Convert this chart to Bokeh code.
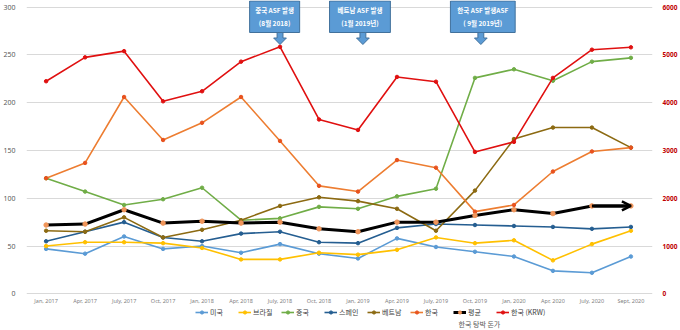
from bokeh.plotting import figure
from bokeh.models import (Range1d, LinearAxis, FixedTicker, Legend, LegendItem,
                          Arrow, OpenHead, Label, ColumnDataSource)
from bokeh.embed import file_html
from bokeh.resources import INLINE
from bokeh.core.properties import value

# ---------------- data ----------------
periods = ["Jan, 2017", "Apr, 2017", "July, 2017", "Oct, 2017", "Jan, 2018", "Apr, 2018",
           "July, 2018", "Oct, 2018", "Jan, 2019", "Apr, 2019", "July, 2019", "Oct, 2019",
           "Jan, 2020", "Apr, 2020", "July, 2020", "Sept, 2020"]
usa = [47, 42, 60, 47, 50, 43, 52, 42, 37, 58, 49, 44, 39, 24, 22, 39]
brazil = [50, 54, 54, 53, 48, 36, 36, 43, 41, 46, 59, 53, 56, 35, 52, 66]
china = [121, 107, 93, 99, 111, 77, 79, 91, 89, 102, 110, 226, 235, 223, 243, 247]
spain = [55, 65, 75, 59, 55, 63, 65, 54, 53, 69, 73, 72, 71, 70, 68, 70]
vietnam = [66, 65, 80, 59, 67, 77, 92, 101, 97, 89, 66, 108, 162, 174, 174, 153]
korea = [121, 137, 206, 161, 179, 206, 160, 113, 107, 140, 132, 86, 93, 128, 149, 153]
average = [72, 73, 88, 74, 76, 74, 75, 68, 65, 75, 75, 82, 88, 84, 92, 92]
korea_krw = [4450, 4950, 5080, 4030, 4240, 4860, 5170, 3650, 3430, 4540, 4440, 2970, 3180, 4520, 5110, 5160]

left_ticks = [0, 50, 100, 150, 200, 250, 300]
right_ticks = [0, 1000, 2000, 3000, 4000, 5000, 6000]

events = [("중국 ASF 발생", "(8월 2018)", "July, 2018"),
          ("베트남 ASF 발생", "(1월 2019년)", "Jan, 2019"),
          ("한국 ASF 발생ASF", "( 9월 2019년)", "Oct, 2019")]

KO = "Noto Sans CJK KR"
idx = list(range(len(periods)))

# ---------------- figure ----------------
# frame covers the full canvas height; value 0 sits at pixel 293.3, 300 at pixel 6.7
H = 330
PXY = (293.3 - 6.7) / 300.0


def ydat(py):
    return (293.3 - py) / PXY


X0, X1 = -0.503, 15.554
p = figure(width=680, height=H, x_range=Range1d(X0, X1), y_range=Range1d(ydat(H), ydat(0)),
           output_backend="svg", toolbar_location=None,
           min_border_left=20, min_border_right=22, min_border_top=0, min_border_bottom=0)
p.extra_y_ranges = {"krw": Range1d(ydat(H) * 20, ydat(0) * 20)}
p.outline_line_color = None
p.background_fill_color = "white"
p.border_fill_color = "white"
PXX = 638 / (X1 - X0)

p.xgrid.visible = False
p.ygrid.grid_line_color = "#D9D9D9"
p.ygrid.grid_line_width = 1

p.yaxis.ticker = FixedTicker(ticks=left_ticks)
p.yaxis.axis_line_color = None
p.yaxis.major_tick_line_color = None
p.yaxis.minor_tick_line_color = None
p.yaxis.major_label_text_font_size = "7px"
p.yaxis.major_label_text_color = "#595959"
p.yaxis.major_label_text_font = "Noto Sans"
p.yaxis.major_label_standoff = 5
p.xaxis.visible = False

ry = LinearAxis(y_range_name="krw", ticker=FixedTicker(ticks=right_ticks))
ry.axis_line_color = None
ry.major_tick_line_color = None
ry.minor_tick_line_color = None
ry.major_label_text_font_size = "6.5px"
ry.major_label_text_color = "#C00000"
ry.major_label_text_font_style = "bold"
ry.major_label_text_font = "Noto Sans"
ry.major_label_standoff = 4
p.add_layout(ry, "right")

# category labels under the value 0 line
p.text(x=idx, y=[ydat(300.5)] * len(idx), text=periods, text_align="center",
       text_baseline="middle", text_font=value("Noto Sans"), text_font_size="5.5px",
       text_color="#7F7F7F")

# ---------------- series ----------------
series = [("미국", usa, "#5B9BD5", "#5B9BD5", 1.6, None),
          ("브라질", brazil, "#FFC000", "#FFC000", 1.6, None),
          ("중국", china, "#70AD47", "#70AD47", 1.6, None),
          ("스페인", spain, "#255E91", "#255E91", 1.6, None),
          ("베트남", vietnam, "#8C6A12", "#8C6A12", 1.6, None),
          ("한국", korea, "#ED7D31", "#E8521E", 1.6, None),
          ("평균", average, "black", "#F0955A", 3, None),
          ("한국 (KRW)", korea_krw, "#E01010", "#E01010", 1.6, "krw")]

items = []
for name, vals, lc, mc, lw, rng in series:
    src = ColumnDataSource(dict(x=idx, y=vals))
    kw = {"y_range_name": rng} if rng else {}
    r1 = p.line("x", "y", source=src, line_color=lc, line_width=lw, **kw)
    if name == "평균":
        n = len(vals)
        p.add_layout(Arrow(end=OpenHead(size=9, line_width=2.5, line_color="black"),
                           x_start=idx[n - 2], y_start=vals[n - 2],
                           x_end=idx[n - 1], y_end=vals[n - 1],
                           line_color="black", line_width=3))
    r2 = p.scatter("x", "y", source=src, marker="circle", size=4.5 if name == "평균" else 3.5,
                   fill_color=mc, line_color=mc, **kw)
    items.append(LegendItem(label=name, renderers=[r1, r2]))

legend = Legend(items=items, orientation="horizontal", location=(169, H - 317),
                glyph_width=13, glyph_height=8, label_height=8, label_standoff=2,
                spacing=8, padding=0, margin=0, label_text_font_size="7px",
                label_text_font=KO, label_text_color="#404040",
                background_fill_alpha=0, border_line_color=None)
p.add_layout(legend)

p.add_layout(Label(x=432, y=H - 323, x_units="screen", y_units="screen", text="한국 탕박 돈가",
                   text_font=KO, text_font_size="7px", text_color="#595959",
                   text_baseline="middle"))

# ---------------- callouts ----------------
box_shapes = [(-31, 20, 0), (-34, 28, 5), (-31, 35, 6)]   # px offsets (left, right) and arrow shift
for (l1, l2, per), (bl, br, sh) in zip(events, box_shapes):
    xa = periods.index(per) + sh / PXX
    left, right = xa + bl / PXX, xa + br / PXX
    p.quad(left=[left], right=[right], top=[ydat(0.5)], bottom=[ydat(32)],
           fill_color="#5B9BD5", line_color="#41719C", line_width=1)
    s, h = 3 / PXX, 6.5 / PXX
    xs = [xa - s, xa + s, xa + s, xa + h, xa, xa - h, xa - s]
    ys = [ydat(32), ydat(32), ydat(37.5), ydat(37.5), ydat(44), ydat(37.5), ydat(37.5)]
    p.patch(xs, ys, fill_color="#5B9BD5", line_color="#41719C", line_width=1)
    xc = (left + right) / 2
    p.text(x=[xc, xc], y=[ydat(9.5), ydat(22.5)], text=[l1, l2], text_align="center",
           text_baseline="middle", text_color="white", text_font=value(KO),
           text_font_size="6.5px", text_font_style="bold")

open("out.html", "w").write(file_html(p, INLINE))
